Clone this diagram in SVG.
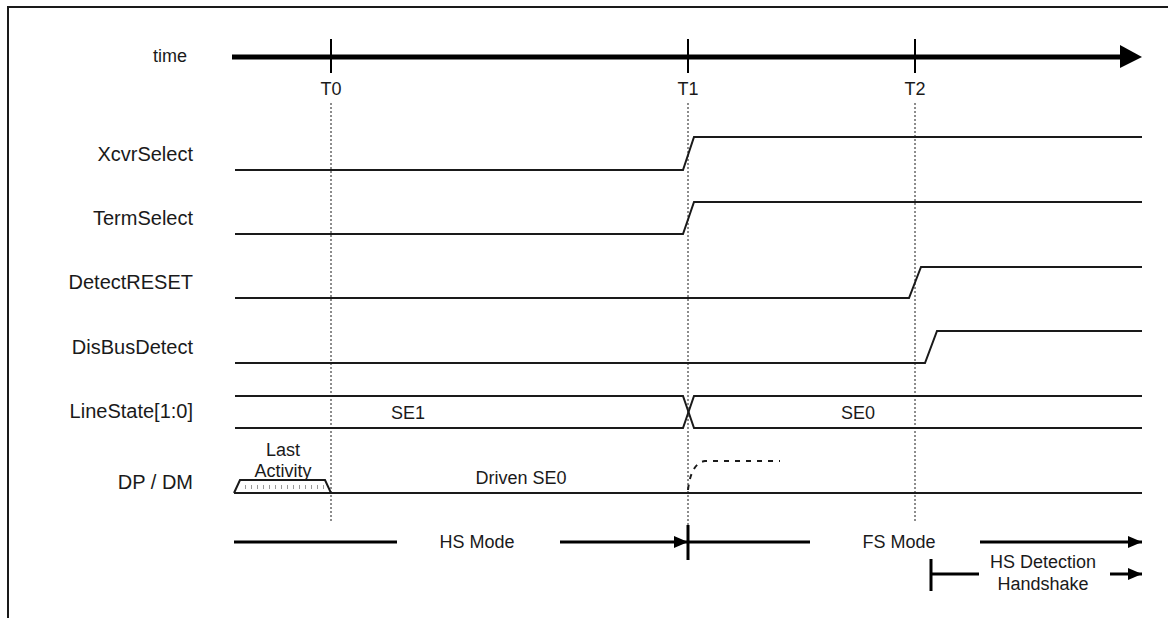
<svg xmlns="http://www.w3.org/2000/svg" width="1168" height="618" viewBox="0 0 1168 618">
<defs>
<style>
text{font-family:"Liberation Sans",Arial,sans-serif;fill:#1a1a1a;font-size:18px}
.lbl{font-size:20px;text-anchor:end}
.mid{text-anchor:middle}
.sig{fill:none;stroke:#1a1a1a;stroke-width:2}
.dot{stroke:#1a1a1a;stroke-width:1;stroke-dasharray:2 2;fill:none}
.thick{stroke:#000;stroke-width:3;fill:none}
</style>
<marker id="ah" viewBox="0 0 14 12" refX="14" refY="6" markerWidth="14" markerHeight="12" markerUnits="userSpaceOnUse" orient="auto"><path d="M0,0L14,6L0,12Z" fill="#000"/></marker>
</defs>
<rect x="0" y="0" width="1168" height="618" fill="#fff"/>
<path d="M8,618V7H1168" fill="none" stroke="#1a1a1a" stroke-width="2"/>

<g id="timeaxis">
<text x="187" y="62" text-anchor="end">time</text>
<line x1="232" y1="57" x2="1121" y2="57" stroke="#000" stroke-width="5"/>
<path d="M1120,45L1142,57L1120,68Z" fill="#000"/>
<line x1="331" y1="39" x2="331" y2="73" stroke="#000" stroke-width="2"/>
<line x1="688" y1="39" x2="688" y2="73" stroke="#000" stroke-width="2"/>
<line x1="915" y1="39" x2="915" y2="73" stroke="#000" stroke-width="2"/>
<text class="mid" x="331" y="95">T0</text>
<text class="mid" x="688" y="95">T1</text>
<text class="mid" x="915" y="95">T2</text>
</g>

<g id="markers">
<line class="dot" x1="331" y1="103" x2="331" y2="523"/>
<line class="dot" x1="688" y1="103" x2="688" y2="525"/>
<line class="dot" x1="915" y1="103" x2="915" y2="523"/>
</g>

<g id="XcvrSelect">
<text class="lbl" x="193" y="161">XcvrSelect</text>
<path class="sig" d="M235,170H683L694,137H1142"/>
</g>
<g id="TermSelect">
<text class="lbl" x="193" y="225">TermSelect</text>
<path class="sig" d="M235,234H683L694,202H1142"/>
</g>
<g id="DetectRESET">
<text class="lbl" x="193" y="289">DetectRESET</text>
<path class="sig" d="M235,298H909L921,267H1142"/>
</g>
<g id="DisBusDetect">
<text class="lbl" x="193" y="354">DisBusDetect</text>
<path class="sig" d="M235,363H925L937,331H1142"/>
</g>
<g id="LineState">
<text class="lbl" x="193" y="418">LineState[1:0]</text>
<path class="sig" d="M235,396H683L694,428H1142"/>
<path class="sig" d="M235,428H683L694,396H1142"/>
<text class="mid" x="408" y="419">SE1</text>
<text class="mid" x="858" y="419">SE0</text>
</g>
<g id="DPDM">
<text class="lbl" x="193" y="489">DP / DM</text>
<path class="sig" d="M234,493L240,480H325L331,493H1142"/>
<line x1="234" y1="493" x2="331" y2="493" stroke="#1a1a1a" stroke-width="2"/>
<line x1="245" y1="487" x2="326" y2="487" stroke="#999" stroke-width="4" stroke-dasharray="1 5"/>
<text class="mid" x="283" y="456">Last</text>
<text class="mid" x="283" y="477">Activity</text>
<text class="mid" x="521" y="484">Driven SE0</text>
<path d="M688,490Q691,463 705,461H780" fill="none" stroke="#1a1a1a" stroke-width="2" stroke-dasharray="5 6"/>
</g>

<g id="modes">
<line class="thick" x1="234" y1="542" x2="397" y2="542"/>
<text class="mid" x="477" y="548">HS Mode</text>
<line class="thick" x1="560" y1="542" x2="688" y2="542" marker-end="url(#ah)"/>
<line class="thick" x1="688" y1="525" x2="688" y2="560"/>
<line class="thick" x1="688" y1="542" x2="810" y2="542"/>
<text class="mid" x="899" y="548">FS Mode</text>
<line class="thick" x1="980" y1="542" x2="1142" y2="542" marker-end="url(#ah)"/>
<line class="thick" x1="931" y1="559" x2="931" y2="591"/>
<line class="thick" x1="931" y1="574" x2="979" y2="574"/>
<text class="mid" x="1043" y="568">HS Detection</text>
<text class="mid" x="1043" y="590">Handshake</text>
<line class="thick" x1="1110" y1="574" x2="1142" y2="574" marker-end="url(#ah)"/>
</g>
</svg>
